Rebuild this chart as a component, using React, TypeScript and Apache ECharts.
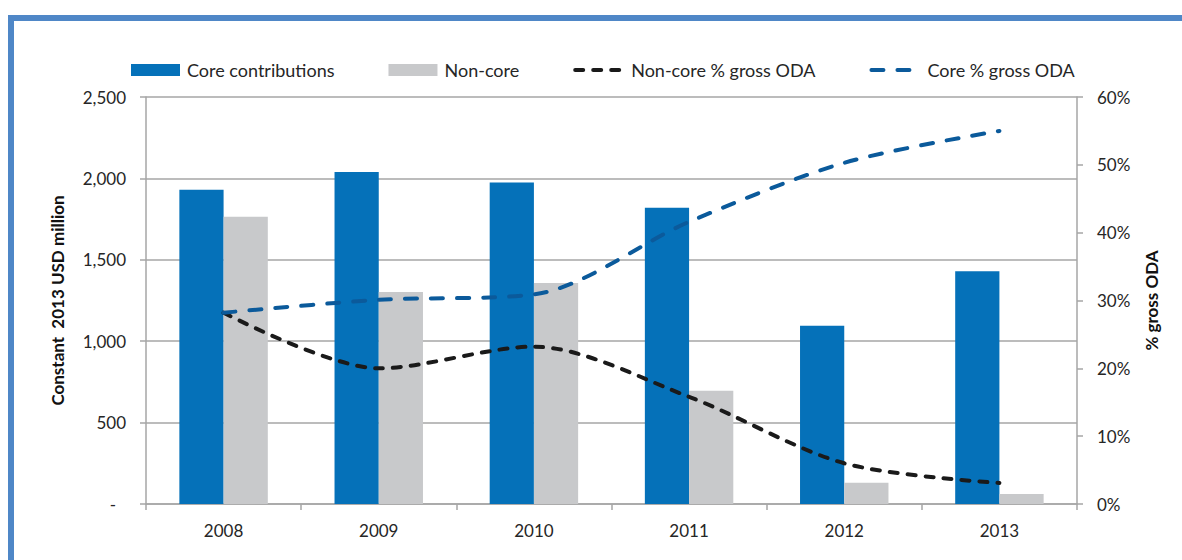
import React, { useEffect, useRef } from "react";
import * as echarts from "echarts";

const years = ["2008", "2009", "2010", "2011", "2012", "2013"];
const coreContrib = [1930, 2040, 1975, 1820, 1095, 1430];
const nonCore = [1765, 1302, 1358, 695, 130, 62];
const nonCorePct = [28.2, 20.0, 23.2, 15.8, 6.0, 3.1];
const corePct = [28.2, 30.1, 30.9, 41.6, 50.3, 55.0];

const FONT = "Lato";
const TXT = "#262626";
const GRID = "#a6a6a6";
const BLUE = "#0571b9";
const GREY = "#c8c9cb";
const DARK = "#1a1a1a";
const LINEBLUE = "#0b5a9b";

export default function App() {
  const ref = useRef<HTMLDivElement>(null);
  useEffect(() => {
    if (!ref.current) return;
    const chart = echarts.init(ref.current, undefined, { renderer: "svg" });
    const hiddenSymbol = { color: "rgba(0,0,0,0)", borderWidth: 0, opacity: 0 };
    chart.setOption({
      animation: false,
      textStyle: { fontFamily: FONT, color: TXT },
      graphic: [
        { type: "rect", shape: { x: 8, y: 15, width: 6, height: 545 }, style: { fill: "#4f87c7" } },
        { type: "rect", shape: { x: 8, y: 15, width: 1174, height: 6 }, style: { fill: "#4f87c7" } },
      ],
      legend: {
        left: 126,
        top: 56,
        itemWidth: 49,
        itemHeight: 12,
        itemGap: 54,
        textStyle: { fontFamily: FONT, fontSize: 18, color: TXT, padding: [0, 0, 0, 2] },
        data: [
          { name: "Core contributions", icon: "rect" },
          { name: "Non-core", icon: "rect" },
          {
            name: "Non-core % gross ODA",
            itemStyle: hiddenSymbol,
            lineStyle: { color: DARK, width: 4, type: [8, 10], cap: "round" },
          },
          {
            name: "Core % gross ODA",
            itemStyle: hiddenSymbol,
            lineStyle: { color: LINEBLUE, width: 4, type: [12, 14], cap: "round" },
          },
        ],
      },
      grid: { left: 146, right: 105, top: 97, bottom: 56 },
      xAxis: {
        type: "category",
        data: years,
        axisLine: { lineStyle: { color: GRID, width: 1.5 } },
        axisTick: { show: true, length: 6, lineStyle: { color: GRID, width: 1.5 } },
        axisLabel: { fontFamily: FONT, fontSize: 17, color: TXT, margin: 18 },
      },
      yAxis: [
        {
          type: "value",
          min: 0,
          max: 2500,
          interval: 500,
          name: "Constant  2013 USD million",
          nameLocation: "middle",
          nameGap: 80,
          nameTextStyle: { fontFamily: FONT, fontSize: 17, fontWeight: "bold", color: "#111" },
          axisLine: { show: true, lineStyle: { color: GRID, width: 1.5 } },
          axisTick: { show: true, length: 6, lineStyle: { color: GRID, width: 1.5 } },
          splitLine: { show: true, lineStyle: { color: GRID, width: 1.5 } },
          axisLabel: {
            fontFamily: FONT,
            fontSize: 17,
            color: TXT,
            margin: 20,
            formatter: (v: number) => (v === 0 ? "{z|-}" : v.toLocaleString("en-US")),
            rich: { z: { fontFamily: FONT, fontSize: 17, color: TXT, padding: [0, 10, 0, 0] } },
          },
        },
        {
          type: "value",
          min: 0,
          max: 60,
          interval: 10,
          position: "right",
          name: "% gross ODA",
          nameLocation: "middle",
          nameGap: 66,
          nameRotate: 90,
          nameTextStyle: { fontFamily: FONT, fontSize: 17, fontWeight: "bold", color: "#111" },
          axisLine: { show: true, lineStyle: { color: GRID, width: 1.5 } },
          axisTick: { show: true, length: 6, lineStyle: { color: GRID, width: 1.5 } },
          splitLine: { show: false },
          axisLabel: { fontFamily: FONT, fontSize: 17, color: TXT, margin: 20, formatter: "{value}%" },
        },
      ],
      series: [
        {
          name: "Core contributions",
          type: "bar",
          data: coreContrib,
          barGap: "0%",
          barCategoryGap: "43%",
          itemStyle: { color: BLUE },
        },
        {
          name: "Non-core",
          type: "bar",
          data: nonCore,
          itemStyle: { color: GREY },
        },
        {
          name: "Non-core % gross ODA",
          type: "line",
          yAxisIndex: 1,
          data: nonCorePct,
          smooth: 0.3,
          symbol: "none",
          itemStyle: { color: DARK },
          lineStyle: { color: DARK, width: 4, type: [8, 10], cap: "round" },
        },
        {
          name: "Core % gross ODA",
          type: "line",
          yAxisIndex: 1,
          data: corePct,
          smooth: 0.3,
          symbol: "none",
          itemStyle: { color: LINEBLUE },
          lineStyle: { color: LINEBLUE, width: 4, type: [12, 14], cap: "round" },
        },
      ],
    });
    return () => chart.dispose();
  }, []);
  return (
    <div
      ref={ref}
      style={{ position: "fixed", left: 0, top: 0, width: 1182, height: 560, background: "#fff" }}
    />
  );
}
